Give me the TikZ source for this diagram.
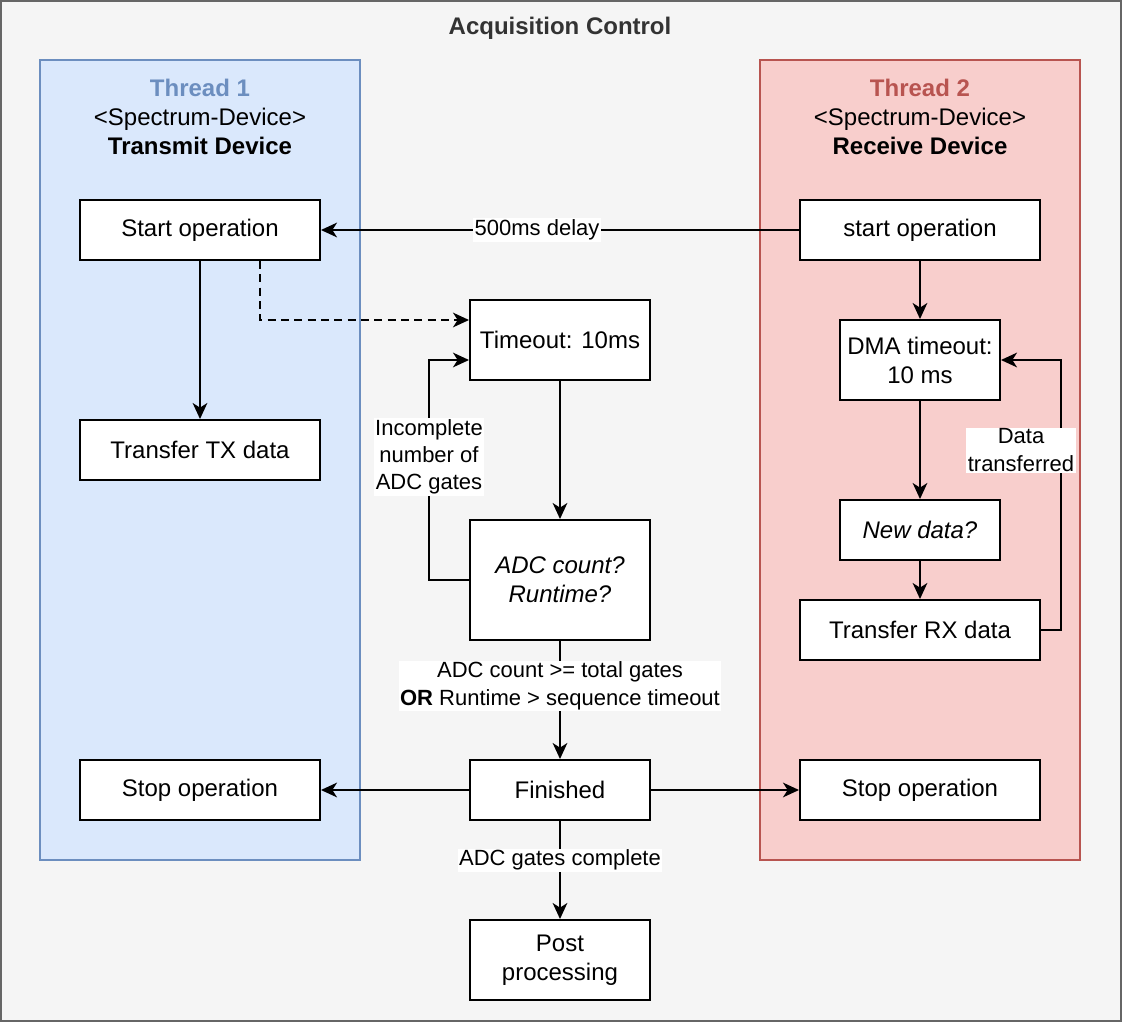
\documentclass[tikz,border=0pt]{standalone}
\usepackage{fontspec}
\setmainfont{Liberation Sans}
\usepackage{tikz}
\usetikzlibrary{arrows.meta}
\usetikzlibrary{positioning}
\usetikzlibrary{calc}
\definecolor{bggray}{HTML}{F5F5F5}
\definecolor{bgline}{HTML}{666666}
\definecolor{titlegray}{HTML}{333333}
\definecolor{bluefill}{HTML}{DAE8FC}
\definecolor{blueline}{HTML}{6C8EBF}
\definecolor{redfill}{HTML}{F8CECC}
\definecolor{redline}{HTML}{B85450}
\tikzset{
    txt/.style={font=\fontsize{18}{21.75}\selectfont},
    stepbox/.style={txt, draw=black, fill=white, line width=1.5pt, align=center,
        minimum width=240*0.75pt, minimum height=60*0.75pt, inner sep=0pt},
    midbox/.style={stepbox, minimum width=180*0.75pt},
    lanebox/.style={draw, line width=1pt, minimum width=320*0.75pt, minimum height=800*0.75pt},
    lbl/.style={font=\fontsize{16.5}{20.5}\selectfont, fill=white, align=center, inner sep=1pt},
    line/.style={draw, line width=1.5pt, -{Stealth[length=12pt,width=11pt,inset=3.5pt]}},
}
\begin{document}
\begin{tikzpicture}[x=0.75pt, y=-0.75pt]
	\useasboundingbox (0,0) rectangle (1122,1022);
	\node[draw=bgline, fill=bggray, line width=1pt, minimum width=1120*0.75pt,
	      minimum height=1020*0.75pt] (bg) at (561,511) {};
	\node[txt, font=\fontsize{18}{21.75}\selectfont\bfseries, text=titlegray] (title) at (560,28) {Acquisition Control};
	% threads
	\node[lanebox, draw=blueline, fill=bluefill] (lane1) at (200,460) {};
	\node[lanebox, draw=redline, fill=redfill] (lane2) at (920,460) {};
	\node[txt, align=center] (head1) at (200,117)
	    {\textcolor{blueline}{\bfseries Thread 1}\\<Spectrum-Device>\\\textbf{Transmit Device}};
	\node[txt, align=center] (head2) at (920,117)
	    {\textcolor{redline}{\bfseries Thread 2}\\<Spectrum-Device>\\\textbf{Receive Device}};
	% transmit side
	\node[stepbox] (startL) at (200,230) {Start operation};
	\node[stepbox] (txL) at (200,450) {Transfer TX data};
	\node[stepbox] (stopL) at (200,790) {Stop operation};
	% receive side
	\node[stepbox] (startR) at (920,230) {start operation};
	\node[stepbox, minimum width=160*0.75pt, minimum height=80*0.75pt] (dma) at (920,360) {DMA timeout:\\10 ms};
	\node[stepbox, minimum width=160*0.75pt, font=\fontsize{18}{21.75}\selectfont\itshape] (newd) at (920,530) {New data?};
	\node[stepbox] (rxR) at (920,630) {Transfer RX data};
	\node[stepbox] (stopR) at (920,790) {Stop operation};
	% control
	\node[midbox, minimum height=80*0.75pt] (tmo) at (560,340) {Timeout: 10ms};
	\node[midbox, minimum height=120*0.75pt, font=\fontsize{18}{21.75}\selectfont\itshape] (adc) at (560,580) {ADC count?\\Runtime?};
	\node[midbox] (fin) at (560,790) {Finished};
	\node[midbox, minimum height=80*0.75pt] (post) at (560,960) {Post\\processing};
	% connectors
	\draw[line] (startR.west) -- node[lbl, pos=0.548] {500ms delay} (startL.east);
	\draw[line] (startL.south) -- (txL.north);
	\draw[line, dash pattern=on 6pt off 4pt] ($(startL.south)+(60,0)$) |- ($(tmo.west)+(0,-20)$);
	\draw[line] (tmo.south) -- (adc.north);
	\draw[line] (adc.west) -- ++(-40,0) |- node[lbl, pos=0.28] {Incomplete\\number of\\ADC gates} ($(tmo.west)+(0,20)$);
	\draw[line] (adc.south) -- node[lbl, pos=0.38] {ADC count >= total gates\\\textbf{OR} Runtime > sequence timeout} (fin.north);
	\draw[line] (fin.west) -- (stopL.east);
	\draw[line] (fin.east) -- (stopR.west);
	\draw[line] (fin.south) -- node[lbl, pos=0.4] {ADC gates complete} (post.north);
	\draw[line] (startR.south) -- (dma.north);
	\draw[line] (dma.south) -- (newd.north);
	\draw[line] (newd.south) -- (rxR.north);
	\draw[line] (rxR.east) -- ++(20,0) |- node[lbl, pos=0.333, xshift=-30pt] {Data\\transferred} (dma.east);
\end{tikzpicture}
\end{document}
